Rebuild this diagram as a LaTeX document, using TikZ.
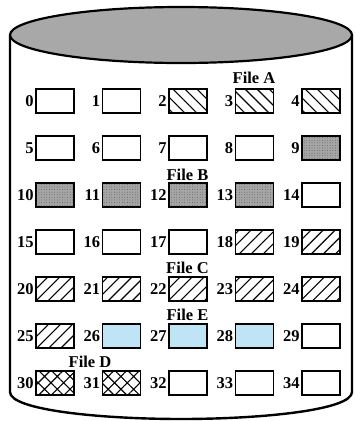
\documentclass[tikz,border=0pt]{standalone}
\usepackage{fontspec}
\setmainfont{Liberation Serif}
\usetikzlibrary{patterns,patterns.meta}
\definecolor{lidgray}{RGB}{168,168,168}
\definecolor{stipgray}{RGB}{165,165,165}
\definecolor{fileblue}{RGB}{190,228,246}
\begin{document}
\begin{tikzpicture}[x=1pt,y=-1pt,
  blk/.style={draw=black, line width=1.3pt, minimum width=38pt, minimum height=24pt, inner sep=0pt},
  wbox/.style={fill=white},
  fileA/.style={fill=white, postaction={pattern={Lines[angle=-45,distance=8.5pt,line width=1.1pt]}}},
  fileB/.style={fill=stipgray, postaction={pattern={Dots[distance=2.6pt,radius=0.35pt]}, pattern color=gray!45!black}},
  fileC/.style={fill=white, postaction={pattern={Lines[angle=45,distance=8.5pt,line width=1.1pt]}}},
  fileD/.style={fill=white, postaction={pattern={Hatch[angle=45,distance=9pt,line width=1.1pt]}}},
  fileE/.style={fill=fileblue},
  num/.style={anchor=east, inner sep=1.5pt, font=\fontsize{16.5}{16.5}\selectfont\bfseries},
  ttl/.style={anchor=base, inner sep=0pt, font=\fontsize{16.5}{16.5}\selectfont\bfseries}]
\useasboundingbox (0,0) rectangle (354,421);
% cylinder body
\draw[line width=2.4pt, fill=white] (10,35) -- (10,392) .. controls (10,410) and (100,419) .. (181,419)
   .. controls (262,419) and (352,410) .. (352,392) -- (352,35);
\draw[line width=2.2pt, fill=lidgray] (181,35) ellipse [x radius=171, y radius=28];
% blocks
\foreach \i/\s in {0/wbox,1/wbox,2/fileA,3/fileA,4/fileA,
                   5/wbox,6/wbox,7/wbox,8/wbox,9/fileB,
                   10/fileB,11/fileB,12/fileB,13/fileB,14/wbox,
                   15/wbox,16/wbox,17/wbox,18/fileC,19/fileC,
                   20/fileC,21/fileC,22/fileC,23/fileC,24/fileC,
                   25/fileC,26/fileE,27/fileE,28/fileE,29/wbox,
                   30/fileD,31/fileD,32/wbox,33/wbox,34/wbox}{
  \pgfmathtruncatemacro\c{mod(\i,5)}
  \pgfmathtruncatemacro\r{\i/5}
  \node[blk,\s] (b\i) at ({55+66.5*\c},{101+47*\r}) {};
  \node[num] (l\i) at (b\i.west) {\i};
}
% file labels
\node[ttl] (tA) at (254,83) {File A};
\node[ttl] (tB) at (187.5,180) {File B};
\node[ttl] (tC) at (187.5,273) {File C};
\node[ttl] (tE) at (187.5,320) {File E};
\node[ttl] (tD) at (90,367) {File D};
\end{tikzpicture}
\end{document}
